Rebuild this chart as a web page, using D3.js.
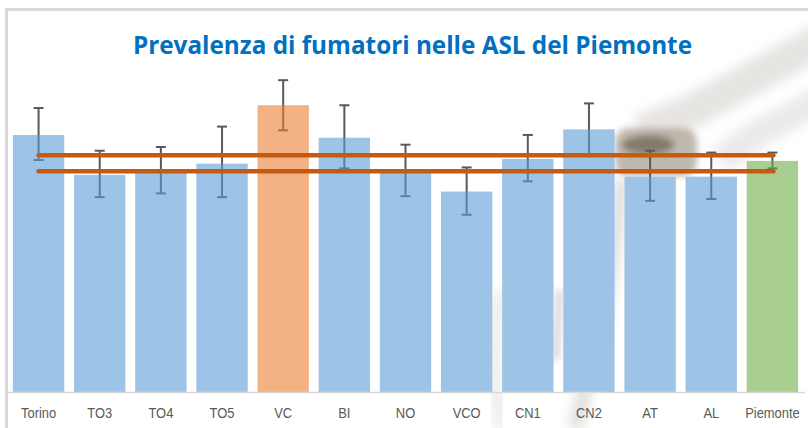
<!DOCTYPE html>
<html>
<head>
<meta charset="utf-8">
<script src="https://cdn.jsdelivr.net/npm/d3@7"></script>
<style>
  html, body { margin: 0; padding: 0; background: #ffffff; }
  svg { display: block; }
</style>
</head>
<body>
<svg id="chart" width="808" height="428"></svg>
<script>
// ---- data ----
const categories = ["Torino","TO3","TO4","TO5","VC","BI","NO","VCO","CN1","CN2","AT","AL","Piemonte"];
const values     = [27.7, 23.4, 23.6, 24.6, 30.9, 27.4, 23.6, 21.6, 25.1, 28.3, 23.2, 23.2, 24.9];
const lowerCI    = [25.0, 21.0, 21.4, 21.0, 28.2, 24.1, 21.1, 19.1, 22.7, 25.5, 20.6, 20.8, 24.1];
const upperCI    = [30.6, 26.0, 26.4, 28.6, 33.6, 30.9, 26.65, 24.2, 27.7, 31.1, 26.0, 25.8, 25.8];
const refLines   = [25.5, 23.8];
const title = "Prevalenza di fumatori nelle ASL del Piemonte";

const colorFor = c => c === "VC" ? "#ED7D31" : (c === "Piemonte" ? "#70AD47" : "#5B9BD5");

const svg = d3.select("#chart");
const W = 808, H = 428;

svg.append("rect").attr("width", W).attr("height", H).attr("fill", "#ffffff");

// ---- background smoke decoration ----
const defs = svg.append("defs");
defs.append("filter").attr("id", "blur6").attr("x", "-50%").attr("y", "-50%").attr("width", "200%").attr("height", "200%")
  .append("feGaussianBlur").attr("stdDeviation", 6);
defs.append("filter").attr("id", "blur3").attr("x", "-50%").attr("y", "-50%").attr("width", "200%").attr("height", "200%")
  .append("feGaussianBlur").attr("stdDeviation", 3);

const smoke = svg.append("g");
smoke.append("path").attr("d", "M830,35 L740,85 L690,112 L640,132")
  .attr("fill", "none").attr("stroke", "#cfcbc6").attr("stroke-width", 34).attr("opacity", 0.5).attr("filter", "url(#blur6)");
smoke.append("path").attr("d", "M830,95 L760,132 L720,160")
  .attr("fill", "none").attr("stroke", "#d6d2cd").attr("stroke-width", 28).attr("opacity", 0.45).attr("filter", "url(#blur6)");
smoke.append("path").attr("d", "M622,180 L612,260 L600,330 L575,428")
  .attr("fill", "none").attr("stroke", "#c4c1bc").attr("stroke-width", 14).attr("opacity", 0.55).attr("filter", "url(#blur6)");
smoke.append("path").attr("d", "M560,290 L555,360")
  .attr("fill", "none").attr("stroke", "#bdbab5").attr("stroke-width", 10).attr("opacity", 0.45).attr("filter", "url(#blur3)");
smoke.append("path").attr("d", "M500,290 L494,360 L500,428")
  .attr("fill", "none").attr("stroke", "#cfccc8").attr("stroke-width", 12).attr("opacity", 0.4).attr("filter", "url(#blur6)");
smoke.append("rect").attr("x", 615).attr("y", 128).attr("width", 82).attr("height", 48).attr("rx", 14)
  .attr("fill", "#a69c8e").attr("opacity", 0.7).attr("filter", "url(#blur3)");
smoke.append("ellipse").attr("cx", 648).attr("cy", 145).attr("rx", 26).attr("ry", 9)
  .attr("fill", "#6b604f").attr("opacity", 0.7).attr("filter", "url(#blur3)");

// ---- scales ----
const x = d3.scaleBand().domain(categories).range([8, 803]).paddingInner(0.16).paddingOuter(0.08);
const y = d3.scaleLinear().domain([0, 35]).range([392, 392 - 35 * 9.28]);

const data = categories.map((c, i) => ({ c, v: values[i], lo: lowerCI[i], hi: upperCI[i] }));

// white underlay so bars hide background
svg.append("g").selectAll("rect").data(data).join("rect")
  .attr("x", d => x(d.c)).attr("width", x.bandwidth())
  .attr("y", d => y(d.v)).attr("height", d => y(0) - y(d.v))
  .attr("fill", "#ffffff");

// ---- error bars (under semi-transparent bars) ----
const eb = svg.append("g").attr("stroke", "#595959").attr("stroke-width", 2).attr("fill", "none");
const cx = d => x(d.c) + x.bandwidth() / 2;
eb.selectAll("line.v").data(data).join("line").attr("class", "v")
  .attr("x1", cx).attr("x2", cx).attr("y1", d => y(d.hi)).attr("y2", d => y(d.lo));
eb.selectAll("line.t").data(data).join("line").attr("class", "t")
  .attr("x1", d => cx(d) - 5).attr("x2", d => cx(d) + 5).attr("y1", d => y(d.hi)).attr("y2", d => y(d.hi));
eb.selectAll("line.b").data(data).join("line").attr("class", "b")
  .attr("x1", d => cx(d) - 5).attr("x2", d => cx(d) + 5).attr("y1", d => y(d.lo)).attr("y2", d => y(d.lo));

// ---- bars ----
svg.append("g").selectAll("rect").data(data).join("rect")
  .attr("x", d => x(d.c)).attr("width", x.bandwidth())
  .attr("y", d => y(d.v)).attr("height", d => y(0) - y(d.v))
  .attr("fill", d => colorFor(d.c)).attr("fill-opacity", 0.6);

// ---- reference lines ----
const xStart = x(categories[0]) + x.bandwidth() / 2;
const xEnd = x(categories[categories.length - 1]) + x.bandwidth() / 2;
svg.append("g").selectAll("line").data(refLines).join("line")
  .attr("x1", xStart).attr("x2", xEnd + 1)
  .attr("y1", d => y(d)).attr("y2", d => y(d))
  .attr("stroke", "#C55A11").attr("stroke-width", 4.5).attr("stroke-linecap", "round");

// ---- x axis ----
const axis = svg.append("g").attr("transform", `translate(0,${y(0)})`)
  .call(d3.axisBottom(x).tickSize(0).tickPadding(0));
axis.select(".domain").remove();
axis.append("line").attr("x1", 6).attr("x2", 805).attr("y1", 0.5).attr("y2", 0.5)
  .attr("stroke", "#D9D9D9").attr("stroke-width", 1.5);
axis.selectAll(".tick text")
  .attr("y", 21).attr("dy", "0.35em")
  .attr("fill", "#595959")
  .style("font-family", "'Liberation Sans', Arial, sans-serif")
  .style("font-size", "15px")
  .each(function() {
    const len = this.getComputedTextLength();
    d3.select(this).attr("textLength", len * 0.86).attr("lengthAdjust", "spacingAndGlyphs");
  });

// ---- title ----
svg.append("text").attr("x", 412.5).attr("y", 53.5).attr("text-anchor", "middle")
  .attr("textLength", 559).attr("lengthAdjust", "spacingAndGlyphs")
  .attr("fill", "#0070C0")
  .style("font-family", "'Open Sans', sans-serif")
  .style("font-weight", "bold").style("font-size", "25px")
  .text(title);

// ---- frame ----
svg.append("path").attr("d", "M6.5,432 L6.5,9.5 L812,9.5")
  .attr("fill", "none").attr("stroke", "#D9D9D9").attr("stroke-width", 3);
</script>
</body>
</html>
